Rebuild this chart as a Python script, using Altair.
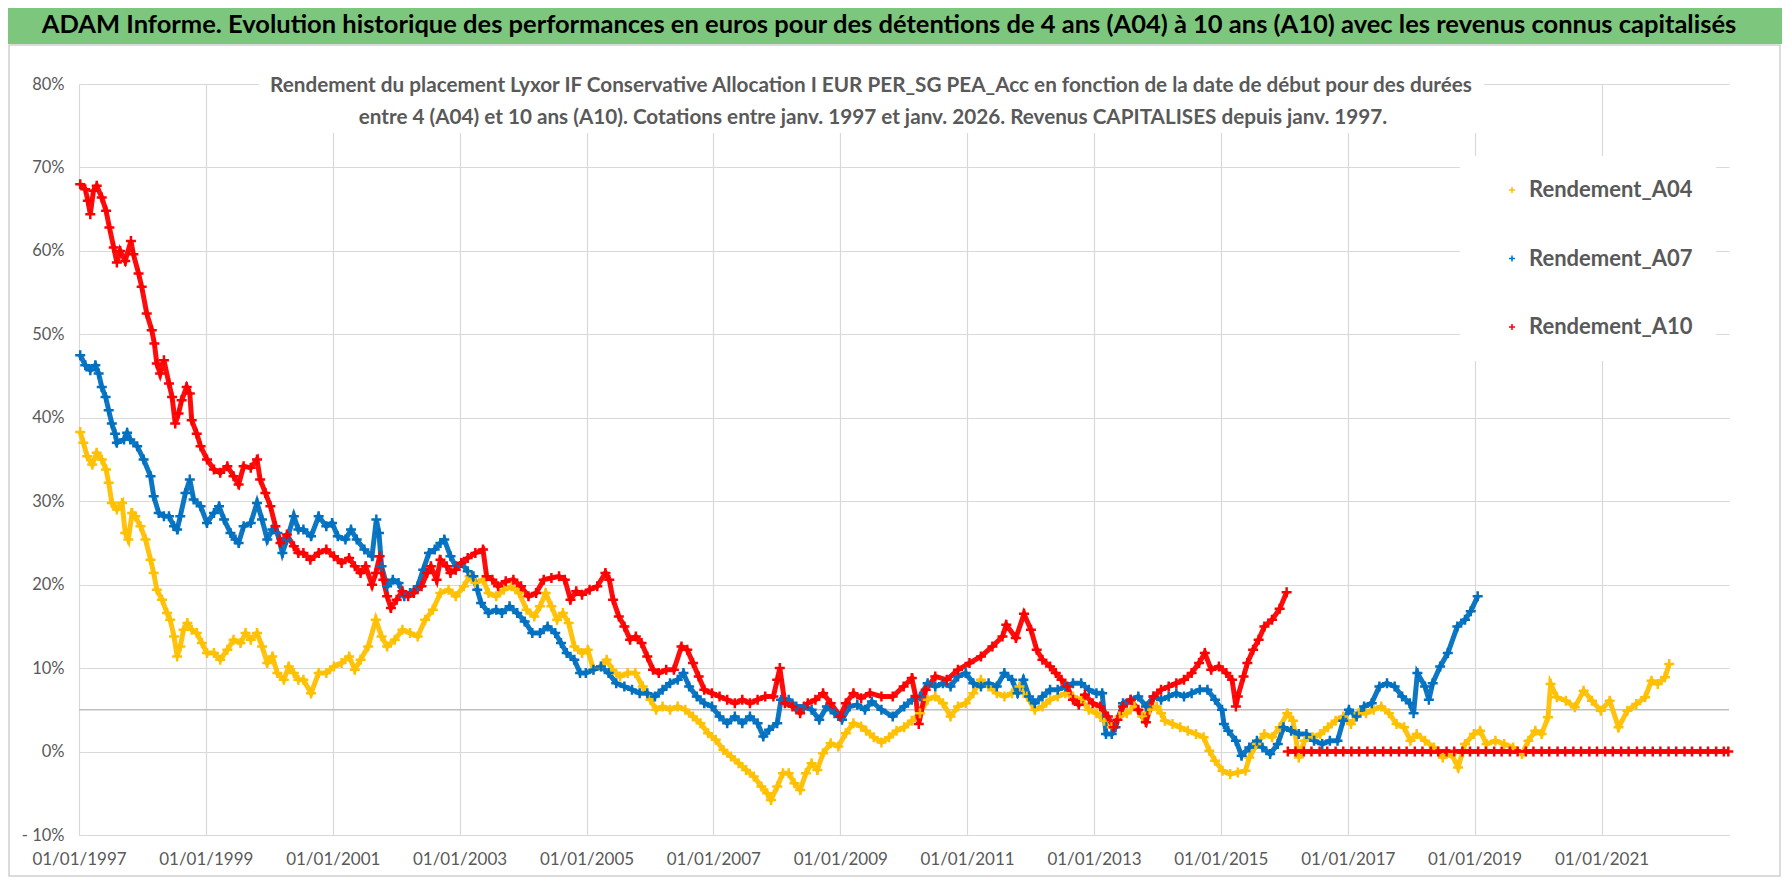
import altair as alt
import pandas as pd

# ---------------- data (decimal years, % values) ----------------
A04_YEARS = [1997.02, 1997.07, 1997.13, 1997.21, 1997.28, 1997.36, 1997.43, 1997.47, 1997.52, 1997.60,
             1997.68, 1997.73, 1997.78, 1997.84, 1997.89, 1997.97, 1998.05, 1998.13, 1998.18, 1998.23,
             1998.31, 1998.39, 1998.44, 1998.50, 1998.55, 1998.60, 1998.65, 1998.71, 1998.78, 1998.86,
             1998.94, 1999.02, 1999.13, 1999.23, 1999.34, 1999.44, 1999.55, 1999.63, 1999.71, 1999.81,
             1999.89, 1999.97, 2000.05, 2000.13, 2000.23, 2000.31, 2000.39, 2000.46, 2000.54, 2000.66,
             2000.78, 2000.90, 2001.02, 2001.14, 2001.26, 2001.35, 2001.44, 2001.56, 2001.68, 2001.77,
             2001.86, 2001.98, 2002.10, 2002.22, 2002.34, 2002.46, 2002.58, 2002.70, 2002.83, 2002.94,
             2003.07, 2003.16, 2003.25, 2003.37, 2003.46, 2003.58, 2003.70, 2003.82, 2003.94, 2004.06,
             2004.18, 2004.27, 2004.36, 2004.45, 2004.54, 2004.63, 2004.72, 2004.81, 2004.93, 2005.02,
             2005.11, 2005.23, 2005.32, 2005.41, 2005.53, 2005.65, 2005.77, 2005.89, 2006.01, 2006.10,
             2006.20, 2006.32, 2006.44, 2006.56, 2006.68, 2006.80, 2006.92, 2007.04, 2007.16, 2007.28,
             2007.40, 2007.52, 2007.64, 2007.76, 2007.85, 2007.91, 2008.01, 2008.10, 2008.19, 2008.28,
             2008.37, 2008.46, 2008.55, 2008.64, 2008.73, 2008.85, 2008.97, 2009.09, 2009.21, 2009.33,
             2009.41, 2009.53, 2009.65, 2009.77, 2009.89, 2010.01, 2010.13, 2010.26, 2010.38, 2010.50,
             2010.62, 2010.74, 2010.86, 2010.98, 2011.10, 2011.22, 2011.34, 2011.47, 2011.59, 2011.71,
             2011.83, 2011.95, 2012.07, 2012.19, 2012.31, 2012.43, 2012.55, 2012.67, 2012.80, 2012.92,
             2013.04, 2013.16, 2013.28, 2013.40, 2013.52, 2013.64, 2013.76, 2013.88, 2013.99, 2014.06,
             2014.12, 2014.24, 2014.36, 2014.48, 2014.61, 2014.73, 2014.82, 2014.91, 2015.03, 2015.15,
             2015.27, 2015.39, 2015.45, 2015.57, 2015.69, 2015.81, 2015.93, 2016.05, 2016.14, 2016.23,
             2016.32, 2016.45, 2016.57, 2016.69, 2016.81, 2016.93, 2017.05, 2017.17, 2017.29, 2017.41,
             2017.53, 2017.65, 2017.77, 2017.89, 2017.99, 2018.09, 2018.22, 2018.36, 2018.50, 2018.64,
             2018.74, 2018.85, 2018.99, 2019.09, 2019.19, 2019.33, 2019.47, 2019.61, 2019.75, 2019.85,
             2019.96, 2020.06, 2020.16, 2020.20, 2020.30, 2020.44, 2020.58, 2020.72, 2020.85, 2020.99,
             2021.13, 2021.27, 2021.41, 2021.55, 2021.69, 2021.79, 2021.89, 2022.00, 2022.07]
A04_VALUES = [38.3, 37.0, 35.4, 34.4, 35.8, 35.0, 33.8, 32.2, 29.8, 29.0,
              29.8, 26.2, 25.4, 28.6, 28.2, 27.0, 25.4, 23.0, 21.4, 19.4,
              18.2, 16.6, 15.8, 13.8, 11.4, 12.6, 14.6, 15.4, 14.6, 14.2,
              13.0, 11.8, 11.8, 11.0, 12.2, 13.4, 13.0, 14.2, 13.4, 14.2,
              12.6, 10.6, 11.4, 9.4, 8.6, 10.2, 9.4, 8.6, 8.6, 7.0,
              9.4, 9.4, 10.2, 10.6, 11.4, 9.8, 11.0, 12.6, 15.8, 13.8,
              12.6, 13.4, 14.6, 14.2, 13.8, 15.8, 17.0, 19.0, 19.4, 18.6,
              19.8, 21.0, 20.2, 20.6, 19.0, 18.6, 19.4, 19.8, 19.0, 17.0,
              16.2, 17.4, 19.0, 17.4, 15.8, 16.6, 15.4, 12.6, 11.8, 12.2,
              9.8, 10.2, 11.0, 9.8, 9.0, 9.4, 9.4, 7.8, 6.2, 5.0,
              5.4, 5.0, 5.4, 5.0, 4.2, 3.4, 2.2, 1.4, 0.2, -0.6,
              -1.4, -2.2, -3.0, -4.2, -5.0, -5.8, -4.2, -2.6, -2.6, -3.8,
              -4.6, -2.6, -1.4, -2.2, -0.2, 1.0, 0.6, 2.2, 3.4, 3.0,
              2.5, 1.7, 1.1, 1.7, 2.5, 2.9, 3.7, 4.6, 6.2, 6.6,
              5.8, 4.2, 5.4, 5.8, 7.0, 8.6, 7.8, 7.0, 6.6, 7.0,
              7.8, 6.6, 5.0, 5.4, 6.2, 6.6, 7.0, 6.6, 6.2, 5.0,
              4.6, 3.7, 2.9, 4.2, 4.6, 5.4, 4.2, 5.0, 5.4, 4.6,
              3.7, 3.3, 2.9, 2.5, 2.1, 1.7, 0.1, -1.1, -2.3, -2.7,
              -2.5, -2.3, -0.7, 0.9, 2.1, 1.7, 2.9, 4.6, 3.7, -0.7,
              1.3, 1.7, 2.1, 2.9, 3.7, 4.2, 3.3, 4.6, 4.6, 5.0,
              5.4, 4.6, 3.3, 2.9, 1.3, 2.1, 1.3, 0.5, -0.7, -0.3,
              -1.9, 0.9, 2.1, 2.5, 0.9, 1.3, 0.9, 0.5, -0.3, 1.3,
              2.5, 2.1, 4.1, 8.1, 6.5, 6.1, 5.3, 7.3, 6.1, 4.9,
              6.1, 2.9, 4.9, 5.7, 6.5, 8.5, 8.1, 8.9, 10.5]

A07_YEARS = [1997.02, 1997.10, 1997.18, 1997.26, 1997.31, 1997.36, 1997.42, 1997.47, 1997.52, 1997.57,
             1997.60, 1997.71, 1997.76, 1997.81, 1997.92, 1998.02, 1998.13, 1998.18, 1998.26, 1998.34,
             1998.42, 1998.50, 1998.55, 1998.60, 1998.68, 1998.75, 1998.81, 1998.92, 1999.02, 1999.13,
             1999.21, 1999.29, 1999.39, 1999.47, 1999.52, 1999.60, 1999.71, 1999.81, 1999.89, 1999.97,
             2000.05, 2000.13, 2000.21, 2000.28, 2000.39, 2000.46, 2000.54, 2000.66, 2000.78, 2000.90,
             2000.99, 2001.08, 2001.20, 2001.29, 2001.38, 2001.50, 2001.62, 2001.69, 2001.73, 2001.77,
             2001.86, 2001.95, 2002.04, 2002.13, 2002.22, 2002.34, 2002.43, 2002.52, 2002.61, 2002.70,
             2002.76, 2002.86, 2002.94, 2003.03, 2003.13, 2003.22, 2003.28, 2003.34, 2003.46, 2003.58,
             2003.67, 2003.79, 2003.91, 2004.03, 2004.15, 2004.27, 2004.39, 2004.51, 2004.60, 2004.69,
             2004.81, 2004.90, 2004.99, 2005.11, 2005.23, 2005.35, 2005.47, 2005.60, 2005.72, 2005.84,
             2005.96, 2006.08, 2006.20, 2006.32, 2006.44, 2006.53, 2006.62, 2006.74, 2006.86, 2006.98,
             2007.10, 2007.22, 2007.34, 2007.46, 2007.58, 2007.70, 2007.79, 2007.88, 2008.01, 2008.07,
             2008.19, 2008.31, 2008.43, 2008.55, 2008.67, 2008.79, 2008.91, 2009.03, 2009.15, 2009.27,
             2009.39, 2009.50, 2009.65, 2009.83, 2010.01, 2010.13, 2010.26, 2010.38, 2010.50, 2010.62,
             2010.74, 2010.86, 2010.98, 2011.10, 2011.22, 2011.34, 2011.47, 2011.59, 2011.71, 2011.80,
             2011.89, 2011.98, 2012.07, 2012.19, 2012.31, 2012.43, 2012.55, 2012.67, 2012.80, 2012.92,
             2013.04, 2013.13, 2013.19, 2013.28, 2013.34, 2013.46, 2013.58, 2013.70, 2013.82, 2013.94,
             2014.06, 2014.18, 2014.30, 2014.42, 2014.54, 2014.67, 2014.79, 2014.91, 2015.02, 2015.05,
             2015.12, 2015.24, 2015.33, 2015.45, 2015.57, 2015.66, 2015.78, 2015.90, 2015.99, 2016.11,
             2016.23, 2016.35, 2016.47, 2016.60, 2016.72, 2016.84, 2016.93, 2017.02, 2017.14, 2017.26,
             2017.38, 2017.50, 2017.62, 2017.74, 2017.86, 2017.98, 2018.04, 2018.10, 2018.22, 2018.28,
             2018.34, 2018.46, 2018.58, 2018.73, 2018.85, 2018.94, 2019.05]
A07_VALUES = [47.5, 46.3, 45.7, 46.3, 45.3, 43.7, 42.5, 40.9, 39.3, 38.1,
              37.0, 37.4, 38.2, 37.4, 36.6, 35.0, 33.0, 30.6, 28.6, 28.2,
              28.2, 27.0, 26.6, 28.2, 31.0, 32.6, 30.2, 29.4, 27.4, 28.6,
              29.4, 27.8, 26.2, 25.4, 25.0, 27.0, 27.4, 29.8, 27.8, 25.4,
              26.6, 26.2, 23.8, 25.4, 28.2, 26.6, 26.6, 25.8, 28.2, 27.0,
              27.4, 25.8, 25.4, 26.6, 25.4, 24.2, 23.4, 27.8, 26.2, 22.2,
              19.8, 20.6, 20.2, 18.6, 19.0, 19.8, 21.8, 23.8, 24.2, 25.0,
              25.4, 23.4, 22.2, 22.6, 21.6, 21.0, 19.4, 17.8, 16.6, 17.0,
              16.6, 17.4, 16.6, 15.6, 14.2, 14.2, 15.0, 14.2, 13.0, 11.8,
              11.0, 9.4, 9.4, 9.8, 10.2, 9.4, 8.2, 7.8, 7.4, 7.0,
              7.0, 6.6, 7.4, 8.2, 8.6, 9.4, 7.8, 6.6, 5.8, 5.4,
              4.2, 3.4, 4.2, 3.4, 4.2, 3.4, 1.8, 2.6, 3.4, 6.2,
              6.2, 5.4, 5.4, 5.0, 3.8, 5.4, 4.6, 3.8, 5.4, 5.6,
              5.0, 6.0, 5.0, 4.2, 5.4, 6.2, 6.6, 8.2, 7.8, 8.2,
              7.8, 9.0, 9.4, 8.2, 7.8, 8.2, 7.8, 9.4, 8.6, 7.0,
              8.6, 6.6, 5.8, 6.6, 7.4, 7.4, 7.8, 8.2, 8.2, 7.4,
              7.0, 7.0, 2.1, 2.1, 2.9, 5.8, 6.2, 6.6, 5.4, 6.6,
              6.2, 6.6, 7.0, 6.6, 7.0, 7.4, 7.4, 6.2, 5.0, 3.3,
              2.5, 1.3, -0.5, 0.5, 1.3, 0.5, -0.3, 0.9, 2.9, 2.5,
              2.1, 2.1, 1.3, 0.9, 1.3, 1.3, 3.7, 5.0, 4.2, 5.4,
              5.8, 7.8, 8.2, 7.8, 6.6, 5.8, 4.6, 9.4, 7.8, 6.2,
              8.2, 10.2, 11.8, 15.0, 15.8, 16.8, 18.6]

A10_YEARS = [1997.02, 1997.10, 1997.14, 1997.18, 1997.23, 1997.28, 1997.36, 1997.43, 1997.48, 1997.55,
             1997.60, 1997.65, 1997.73, 1997.82, 1997.86, 1997.94, 1997.99, 1998.07, 1998.15, 1998.19,
             1998.23, 1998.28, 1998.34, 1998.42, 1998.47, 1998.52, 1998.57, 1998.62, 1998.70, 1998.75,
             1998.78, 1998.86, 1998.92, 1999.02, 1999.13, 1999.23, 1999.34, 1999.44, 1999.52, 1999.60,
             1999.71, 1999.81, 1999.86, 1999.94, 2000.02, 2000.10, 2000.18, 2000.28, 2000.39, 2000.46,
             2000.54, 2000.65, 2000.78, 2000.90, 2001.02, 2001.14, 2001.26, 2001.35, 2001.44, 2001.52,
             2001.62, 2001.68, 2001.74, 2001.80, 2001.86, 2001.92, 2002.01, 2002.10, 2002.19, 2002.28,
             2002.40, 2002.49, 2002.55, 2002.64, 2002.70, 2002.80, 2002.86, 2002.94, 2003.03, 2003.13,
             2003.25, 2003.37, 2003.43, 2003.52, 2003.61, 2003.73, 2003.85, 2003.97, 2004.09, 2004.21,
             2004.33, 2004.45, 2004.57, 2004.66, 2004.75, 2004.84, 2004.93, 2005.05, 2005.17, 2005.30,
             2005.36, 2005.42, 2005.51, 2005.60, 2005.69, 2005.78, 2005.87, 2005.96, 2006.05, 2006.14,
             2006.26, 2006.38, 2006.50, 2006.59, 2006.68, 2006.77, 2006.86, 2006.98, 2007.10, 2007.22,
             2007.34, 2007.46, 2007.58, 2007.70, 2007.82, 2007.95, 2008.01, 2008.05, 2008.13, 2008.25,
             2008.37, 2008.49, 2008.61, 2008.73, 2008.85, 2009.00, 2009.09, 2009.21, 2009.33, 2009.47,
             2009.65, 2009.83, 2010.00, 2010.13, 2010.19, 2010.24, 2010.35, 2010.50, 2010.68, 2010.86,
             2011.04, 2011.22, 2011.40, 2011.56, 2011.62, 2011.77, 2011.90, 2012.01, 2012.10, 2012.19,
             2012.31, 2012.40, 2012.49, 2012.58, 2012.67, 2012.76, 2012.86, 2012.98, 2013.10, 2013.22,
             2013.31, 2013.37, 2013.46, 2013.58, 2013.70, 2013.82, 2013.94, 2014.06, 2014.18, 2014.30,
             2014.42, 2014.54, 2014.66, 2014.75, 2014.85, 2014.97, 2015.09, 2015.18, 2015.24, 2015.27,
             2015.36, 2015.42, 2015.51, 2015.60, 2015.69, 2015.81, 2015.93, 2016.04]
A10_VALUES = [68.0, 67.4, 66.0, 64.4, 67.2, 67.8, 66.4, 64.8, 62.8, 60.4,
              58.6, 60.0, 58.8, 61.2, 59.6, 57.3, 55.7, 52.5, 50.5, 48.9,
              46.5, 45.3, 46.9, 44.1, 42.5, 39.3, 40.5, 42.1, 43.7, 42.9,
              39.7, 38.1, 36.6, 35.0, 33.8, 33.4, 34.2, 33.0, 32.0, 34.2,
              34.0, 35.0, 32.6, 31.0, 29.4, 27.0, 25.0, 26.0, 24.6, 23.8,
              23.8, 23.0, 23.8, 24.2, 23.4, 22.6, 23.2, 22.2, 21.4, 22.2,
              20.0, 21.4, 23.4, 20.6, 18.6, 17.2, 18.2, 19.2, 18.6, 19.0,
              19.8, 21.4, 22.2, 20.6, 23.0, 22.2, 21.4, 21.8, 22.6, 23.2,
              23.8, 24.2, 21.0, 20.6, 19.8, 20.4, 20.6, 19.8, 18.6, 19.0,
              20.6, 20.8, 21.0, 20.6, 18.2, 19.2, 18.8, 19.4, 19.8, 21.4,
              20.6, 18.2, 16.2, 15.0, 13.4, 13.8, 13.0, 11.4, 9.8, 9.4,
              9.8, 9.8, 12.6, 12.2, 10.6, 9.0, 7.4, 7.0, 6.6, 6.2,
              5.8, 6.2, 5.8, 6.2, 6.6, 6.6, 8.6, 10.0, 5.8, 5.4,
              4.6, 5.8, 6.2, 7.0, 5.8, 4.2, 5.8, 7.0, 6.4, 7.0,
              6.6, 6.6, 7.8, 8.8, 6.6, 3.3, 7.4, 9.0, 8.6, 9.8,
              10.6, 11.4, 12.6, 13.8, 15.2, 13.6, 16.5, 14.6, 12.2, 11.0,
              10.2, 9.4, 8.6, 7.8, 6.2, 5.6, 6.8, 5.8, 5.4, 4.2,
              2.9, 3.8, 5.4, 6.2, 5.0, 3.5, 6.6, 7.4, 7.8, 8.2,
              8.6, 9.4, 10.6, 11.8, 9.8, 10.2, 9.4, 8.6, 5.4, 6.6,
              9.0, 10.6, 12.2, 13.4, 15.0, 15.8, 17.1, 19.1]
A10_ZERO_YEARS = [2016.06, 2016.18, 2016.31, 2016.43, 2016.56, 2016.68, 2016.81, 2016.93, 2017.06, 2017.18,
                  2017.31, 2017.43, 2017.56, 2017.68, 2017.81, 2017.93, 2018.06, 2018.18, 2018.31, 2018.43,
                  2018.56, 2018.68, 2018.81, 2018.93, 2019.06, 2019.18, 2019.31, 2019.43, 2019.56, 2019.68,
                  2019.81, 2019.93, 2020.06, 2020.18, 2020.31, 2020.43, 2020.56, 2020.68, 2020.81, 2020.93,
                  2021.06, 2021.18, 2021.31, 2021.43, 2021.56, 2021.68, 2021.81, 2021.93, 2022.06, 2022.18,
                  2022.31, 2022.43, 2022.56, 2022.68, 2022.81, 2022.93, 2023.00]
A10_ZERO_VALUES = [0.0] * len(A10_ZERO_YEARS)

SERIES = ["Rendement_A04", "Rendement_A07", "Rendement_A10"]
COLORS = ["#FFC000", "#0070C0", "#FF0000"]

TITLE = ("ADAM Informe. Evolution historique des performances en euros pour des détentions "
         "de 4 ans (A04) à 10 ans (A10) avec les revenus connus capitalisés")
SUB1 = ("Rendement du placement Lyxor IF Conservative Allocation I EUR PER_SG PEA_Acc "
        "en fonction de la date de début pour des durées")
SUB2 = ("entre 4 (A04) et 10 ans (A10).  Cotations entre janv. 1997 et janv. 2026. "
        "Revenus CAPITALISES depuis janv. 1997.")

X_TICK_YEARS = [1997, 1999, 2001, 2003, 2005, 2007, 2009, 2011, 2013, 2015, 2017, 2019, 2021]
Y_TICKS = [-0.1, 0.0, 0.1, 0.2, 0.3, 0.4, 0.5, 0.6, 0.7, 0.8]

FONT = "Lato, Liberation Sans, sans-serif"
GREY_TXT = "#595959"
GRID = "#D9D9D9"
GREEN = "#7DC67D"
PLUS = "M-1,0H1M0,-1V1"


def dec_to_date(y):
    yr = int(y)
    start = pd.Timestamp(year=yr, month=1, day=1)
    end = pd.Timestamp(year=yr + 1, month=1, day=1)
    return (start + (end - start) * (y - yr)).strftime("%Y-%m-%d")


rows = []
for name, seg, years, vals in [
    (SERIES[0], "a04", A04_YEARS, A04_VALUES),
    (SERIES[1], "a07", A07_YEARS, A07_VALUES),
    (SERIES[2], "a10", A10_YEARS, A10_VALUES),
    (SERIES[2], "a10z", A10_ZERO_YEARS, A10_ZERO_VALUES),
]:
    for y, v in zip(years, vals):
        rows.append({"date": dec_to_date(y), "value": v / 100.0, "series": name, "segment": seg})
df = pd.DataFrame(rows)
one = pd.DataFrame({"k": [0]})

W, H = 1650, 751
PAD = {"left": 71, "top": 76, "right": 53, "bottom": 43}

x_enc = alt.X(
    "date:T",
    scale=alt.Scale(type="utc",
                    domain=[alt.DateTime(year=1997, month=1, date=1, utc=True),
                            alt.DateTime(year=2023, month=1, date=5, utc=True)]),
    axis=alt.Axis(values=[alt.DateTime(year=y, month=1, date=1, utc=True) for y in X_TICK_YEARS],
                  format="%d/%m/%Y", title=None, grid=True, gridColor=GRID, gridWidth=1.2,
                  ticks=False, domain=True, domainColor=GRID, domainWidth=1.2,
                  labelFont=FONT, labelFontSize=17, labelColor=GREY_TXT, labelPadding=16,
                  labelFlush=False, labelOverlap=False),
)
y_enc = alt.Y(
    "value:Q",
    scale=alt.Scale(domain=[-0.1, 0.8], nice=False, zero=False),
    axis=alt.Axis(values=Y_TICKS, title=None, grid=True, gridColor=GRID, gridWidth=1.2,
                  ticks=False, domain=False, labelFont=FONT, labelFontSize=16.5,
                  labelColor=GREY_TXT, labelPadding=15,
                  labelExpr="datum.value < -0.001 ? '- ' + format(-datum.value, '.0%') : format(datum.value, '.0%')"),
)
color_scale = alt.Scale(domain=SERIES, range=COLORS)

frame = alt.Chart(one).mark_rect(filled=False, color="#D0D0D0", strokeWidth=1.5).encode(
    x=alt.value(-70), x2=alt.value(W + 51), y=alt.value(-39), y2=alt.value(H + 41))
banner = alt.Chart(one).mark_rect(color=GREEN).encode(
    x=alt.value(-PAD["left"]), x2=alt.value(W + PAD["right"]),
    y=alt.value(-76), y2=alt.value(-40))
banner_text = alt.Chart(one).mark_text(
    font=FONT, fontSize=25.5, fontWeight="bold", color="#000000", align="center", baseline="middle"
).encode(x=alt.value(810), y=alt.value(-59), text=alt.value(TITLE))

sub_box = alt.Chart(one).mark_rect(color="white").encode(
    x=alt.value(180), x2=alt.value(1405), y=alt.value(-16), y2=alt.value(49))
sub1 = alt.Chart(one).mark_text(
    font=FONT, fontSize=20.7, fontWeight="bold", color=GREY_TXT, align="center", baseline="middle"
).encode(x=alt.value(792), y=alt.value(2), text=alt.value(SUB1))
sub2 = alt.Chart(one).mark_text(
    font=FONT, fontSize=20.7, fontWeight="bold", color=GREY_TXT, align="center", baseline="middle"
).encode(x=alt.value(794), y=alt.value(34), text=alt.value(SUB2))

rule5 = alt.Chart(one).mark_rule(color="#BFBFBF", strokeWidth=1.5).encode(y=alt.datum(0.05))

base = alt.Chart(df)
lines = base.mark_line(strokeWidth=5, opacity=0.95).encode(
    x=x_enc, y=y_enc,
    color=alt.Color("series:N", scale=color_scale, legend=None),
    detail="segment:N")
points = base.mark_point(shape=PLUS, size=100, filled=False, strokeWidth=2.5, opacity=1).encode(
    x=x_enc, y=y_enc,
    color=alt.Color("series:N", scale=color_scale,
                    legend=alt.Legend(title=None, orient="none", legendX=1381, legendY=72,
                                      fillColor="white", padding=23, rowPadding=46.5,
                                      symbolType=PLUS, symbolSize=36, symbolStrokeWidth=1.5,
                                      symbolOffset=18, labelOffset=6, labelLimit=400,
                                      labelFont=FONT, labelFontSize=22, labelFontWeight="bold",
                                      labelColor=GREY_TXT)))

chart = alt.layer(frame, banner, banner_text, sub_box, sub1, sub2, rule5, lines, points).resolve_scale(
    color="independent"
).properties(
    width=W, height=H, padding=PAD,
    autosize=alt.AutoSizeParams(type="none"),
    background="white",
).configure_view(stroke=None)

chart.save("out.html", embed_options={"renderer": "svg", "actions": False})
